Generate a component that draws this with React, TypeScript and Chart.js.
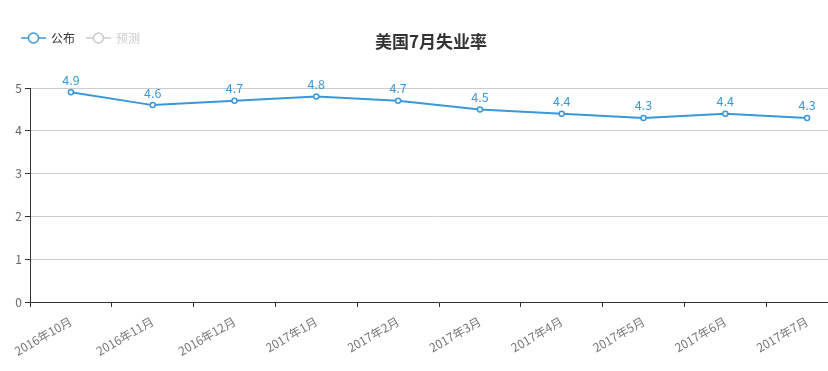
import React, { useEffect, useRef } from "react";
import { Chart, registerables } from "chart.js";

Chart.register(...registerables);

const categories = ["2016年10月", "2016年11月", "2016年12月", "2017年1月", "2017年2月", "2017年3月", "2017年4月", "2017年5月", "2017年6月", "2017年7月"];
const published = [4.9, 4.6, 4.7, 4.8, 4.7, 4.5, 4.4, 4.3, 4.4, 4.3];
const yTicks = [0, 1, 2, 3, 4, 5];
const titleText = "美国7月失业率";
const legendNames = ["公布", "预测"];

const FONT = "'Noto Sans CJK SC', 'Noto Sans', sans-serif";
const BLUE = "#3a98da";

const overlay = {
  id: "overlay",
  afterDatasetsDraw(chart: any) {
    const ctx = chart.ctx;
    ctx.save();
    // data labels
    const meta = chart.getDatasetMeta(0);
    ctx.font = `12.5px ${FONT}`;
    ctx.fillStyle = BLUE;
    ctx.textAlign = "center";
    ctx.textBaseline = "bottom";
    meta.data.forEach((pt: any, i: number) => {
      ctx.fillText(String(published[i]), pt.x, pt.y - 6);
    });
    // title
    ctx.font = `bold 17px ${FONT}`;
    ctx.fillStyle = "#333";
    ctx.textBaseline = "middle";
    ctx.fillText(titleText, chart.width / 2, 42);
    // legend
    const items = [
      { x: 21, color: BLUE, text: "#333" },
      { x: 86, color: "#ccc", text: "#ccc" },
    ];
    items.forEach((it, i) => {
      ctx.strokeStyle = it.color;
      ctx.lineWidth = 1.5;
      ctx.beginPath();
      ctx.moveTo(it.x, 38);
      ctx.lineTo(it.x + 25, 38);
      ctx.stroke();
      ctx.beginPath();
      ctx.arc(it.x + 12.5, 38, 5, 0, Math.PI * 2);
      ctx.fillStyle = "#fff";
      ctx.fill();
      ctx.stroke();
      ctx.font = `12px ${FONT}`;
      ctx.fillStyle = it.text;
      ctx.textAlign = "left";
      ctx.fillText(legendNames[i], it.x + 30, 38);
    });
    ctx.restore();
  },
};

export default function App() {
  const ref = useRef<HTMLCanvasElement>(null);
  useEffect(() => {
    const chart = new Chart(ref.current!, {
      type: "line",
      data: {
        labels: categories,
        datasets: [
          {
            label: legendNames[0],
            data: published,
            borderColor: BLUE,
            backgroundColor: "#fff",
            borderWidth: 2,
            pointRadius: 2.5,
            pointBorderWidth: 1.5,
            pointBackgroundColor: "#fff",
            pointBorderColor: BLUE,
            tension: 0,
          },
        ],
      },
      options: {
        responsive: false,
        animation: false,
        layout: { padding: { top: 88, right: 14, left: 0, bottom: 0 } },
        plugins: { legend: { display: false }, title: { display: false }, tooltip: { enabled: false } },
        scales: {
          x: {
            offset: true,
            grid: { display: true, drawOnChartArea: false, drawTicks: true, tickLength: 5, tickColor: "#333", offset: true },
            border: { color: "#333", width: 1 },
            ticks: { color: "#777", font: { family: FONT, size: 12 }, minRotation: 30, maxRotation: 30, autoSkip: false, padding: 7 },
            afterFit: (s: any) => { s.height = 69; },
          },
          y: {
            min: 0,
            max: 5,
            afterBuildTicks: (s: any) => { s.ticks = yTicks.map((v) => ({ value: v })); },
            grid: { color: "#ccc", tickColor: "#333", tickLength: 5 },
            border: { color: "#333", width: 1 },
            ticks: { color: "#666", font: { family: FONT, size: 12 }, padding: 3 },
            afterFit: (s: any) => { s.width = 30; },
          },
        },
      },
      plugins: [overlay],
    });
    return () => chart.destroy();
  }, []);
  return (
    <div style={{ position: "absolute", left: 0, top: 0, width: 828, height: 371, overflow: "hidden", background: "#fff" }}>
      <canvas ref={ref} width={862} height={371} style={{ display: "block" }} />
    </div>
  );
}
